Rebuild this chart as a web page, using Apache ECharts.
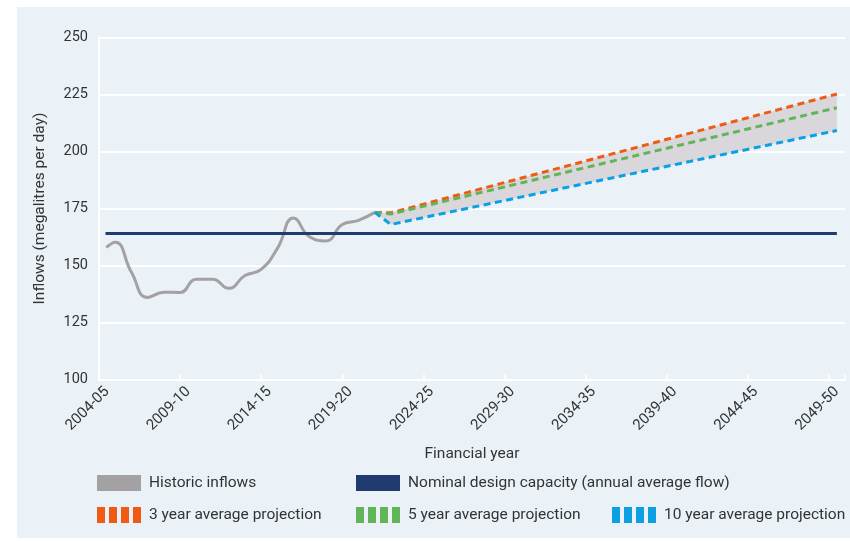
<!DOCTYPE html>
<html>
<head>
<meta charset="utf-8">
<script src="https://cdn.jsdelivr.net/npm/echarts@6/dist/echarts.min.js"></script>
<style>
  html, body { margin: 0; padding: 0; background: #ffffff; }
  #chart { width: 850px; height: 541px; }
</style>
</head>
<body>
<div id="chart"></div>
<script>
// Financial years shown along the x axis
const financialYears = [
  '2004-05','2005-06','2006-07','2007-08','2008-09','2009-10','2010-11','2011-12',
  '2012-13','2013-14','2014-15','2015-16','2016-17','2017-18','2018-19','2019-20',
  '2020-21','2021-22','2022-23','2023-24','2024-25','2025-26','2026-27','2027-28',
  '2028-29','2029-30','2030-31','2031-32','2032-33','2033-34','2034-35','2035-36',
  '2036-37','2037-38','2038-39','2039-40','2040-41','2041-42','2042-43','2043-44',
  '2044-45','2045-46','2046-47','2047-48','2048-49','2049-50'
];

// Historic inflows (ML/day), positioned in years from the start of 2004-05
const historicYearPos = [0.45, 1, 2, 3, 4, 5, 6, 7, 8, 9, 10, 11, 12, 13, 14, 15, 16, 17];
const historicInflows = [157.9, 160.2, 147.0, 136.0, 138.3, 138.2, 144.0, 144.0, 140.0, 145.6, 148.3, 157.5, 170.8, 162.5, 160.8, 168.0, 169.8, 173.3];

// Nominal design capacity (annual average flow)
const capacityYearPos = [0.4, 45.5];
const capacityValues = [164, 164];

// Projections from the last historic year
const projectionYearPos = [17, 18, 45.5];
const projection3yr = [173.3, 173.1, 225.2];
const projection5yr = [173.3, 172.6, 219.2];
const projection10yr = [173.3, 168.0, 209.2];

const yTicks = { min: 100, max: 250, step: 25 };

const pair = (xs, ys) => xs.map((x, i) => [x, ys[i]]);

const FONT = 'Roboto, "Noto Sans", sans-serif';
const TEXT = '#333333';

const barsIcon = 'path://M0,0h8v16h-8z M12,0h8v16h-8z M24,0h8v16h-8z M36,0h8v16h-8z';

function legendAt(name, left, top, icon) {
  return {
    data: [name], left: left, top: top, padding: 0,
    icon: icon, itemWidth: 44, itemHeight: 16,
    itemStyle: { borderWidth: 0 },
    selectedMode: false,
    textStyle: { fontFamily: FONT, fontSize: 15.5, color: TEXT, padding: [0, 0, 0, 3] }
  };
}

// Shaded range between the highest and lowest projections
function renderBand(params, api) {
  const upper = pair(projectionYearPos, projection3yr).map(p => api.coord(p));
  const lower = pair(projectionYearPos, projection10yr).map(p => api.coord(p)).reverse();
  return {
    type: 'polygon',
    shape: { points: upper.concat(lower) },
    style: { fill: '#d9d7db' }
  };
}

const chart = echarts.init(document.getElementById('chart'), null, { renderer: 'canvas' });

chart.setOption({
  animation: false,
  backgroundColor: '#ffffff',
  graphic: [{
    type: 'rect', z: -10, silent: true,
    shape: { x: 17, y: 7, width: 833, height: 531 },
    style: { fill: '#eaf2f8' }
  }],
  grid: { left: 99, right: 5, top: 37.5, bottom: 161.5, containLabel: false },
  legend: [
    legendAt('Historic inflows', 97, 475, 'rect'),
    legendAt('Nominal design capacity (annual average flow)', 356, 475, 'rect'),
    legendAt('3 year average projection', 97, 507, barsIcon),
    legendAt('5 year average projection', 356, 507, barsIcon),
    legendAt('10 year average projection', 612, 507, barsIcon)
  ],
  xAxis: [{
    type: 'category',
    data: financialYears,
    boundaryGap: true,
    name: 'Financial year',
    nameLocation: 'middle',
    nameGap: 67,
    nameTextStyle: { fontFamily: FONT, fontSize: 15.5, color: TEXT },
    axisLine: { show: true, lineStyle: { color: '#ffffff', width: 2 } },
    axisTick: { show: true, inside: true, length: 5, lineStyle: { color: '#ffffff', width: 1.5 } },
    axisLabel: { interval: 4, rotate: 45, margin: 10, fontFamily: FONT, fontSize: 15, color: TEXT },
    splitLine: { show: false }
  }, {
    type: 'value', min: 0, max: 46, show: false
  }],
  yAxis: {
    type: 'value',
    min: yTicks.min, max: yTicks.max, interval: yTicks.step,
    name: 'Inflows (megalitres per day)',
    nameLocation: 'middle',
    nameGap: 51,
    nameTextStyle: { fontFamily: FONT, fontSize: 15.5, color: TEXT },
    axisLine: { show: true, lineStyle: { color: '#ffffff', width: 2 } },
    axisTick: { show: false },
    axisLabel: { margin: 11, fontFamily: FONT, fontSize: 14.5, color: TEXT },
    splitLine: { show: true, lineStyle: { color: '#ffffff', width: 2 } }
  },
  series: [
    {
      name: 'Projection range', type: 'custom', xAxisIndex: 1,
      data: [[projectionYearPos[0], projection3yr[0]]],
      encode: { x: 0, y: 1 },
      renderItem: renderBand, silent: true, z: 1
    },
    {
      name: 'Historic inflows', type: 'line', xAxisIndex: 1,
      data: pair(historicYearPos, historicInflows),
      smooth: 0.5, showSymbol: false,
      color: '#a4a1a4', itemStyle: { color: '#a4a1a4', borderWidth: 0 },
      lineStyle: { color: '#a4a1a4', width: 3 }, z: 3
    },
    {
      name: 'Nominal design capacity (annual average flow)', type: 'line', xAxisIndex: 1,
      data: pair(capacityYearPos, capacityValues),
      showSymbol: false,
      color: '#1f3b70', itemStyle: { color: '#1f3b70', borderWidth: 0 },
      lineStyle: { color: '#1f3b70', width: 3 }, z: 4
    },
    {
      name: '3 year average projection', type: 'line', xAxisIndex: 1,
      data: pair(projectionYearPos, projection3yr),
      showSymbol: false,
      color: '#ef5b12', itemStyle: { color: '#ef5b12', borderWidth: 0 },
      lineStyle: { color: '#ef5b12', width: 3, type: [7, 4.5] }, z: 5
    },
    {
      name: '5 year average projection', type: 'line', xAxisIndex: 1,
      data: pair(projectionYearPos, projection5yr),
      showSymbol: false,
      color: '#61b457', itemStyle: { color: '#61b457', borderWidth: 0 },
      lineStyle: { color: '#61b457', width: 3, type: [7, 4.5] }, z: 5
    },
    {
      name: '10 year average projection', type: 'line', xAxisIndex: 1,
      data: pair(projectionYearPos, projection10yr),
      showSymbol: false,
      color: '#0aa0e2', itemStyle: { color: '#0aa0e2', borderWidth: 0 },
      lineStyle: { color: '#0aa0e2', width: 3, type: [7, 4.5] }, z: 5
    }
  ]
});
</script>
</body>
</html>
